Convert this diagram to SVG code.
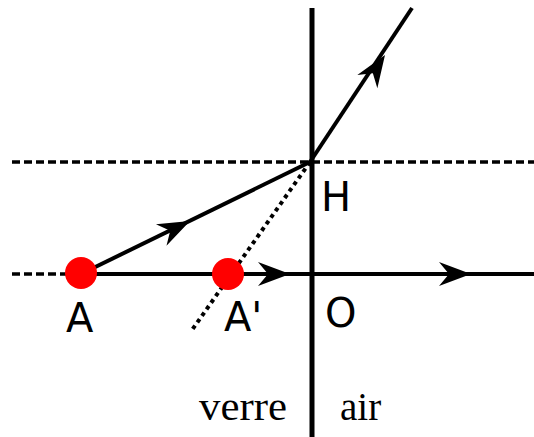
<svg xmlns="http://www.w3.org/2000/svg" width="534" height="437" viewBox="0 0 534 437">
<defs>
<style>
.dash{stroke:#000;stroke-width:3.5;stroke-dasharray:8,4;fill:none}
.ray{stroke:#000;stroke-width:4;fill:none;stroke-linecap:butt}
.dot{stroke:#000;stroke-width:4;stroke-dasharray:4,4;fill:none}
.lbl{font-family:"DejaVu Sans",sans-serif;font-size:40px;fill:#000}
.med{font-family:"Liberation Serif",serif;font-size:39px;fill:#000}
.pt{fill:#ff0000}
</style>
<path id="ah" d="M0,0 L-32,-12 L-22,0 L-32,12 Z" fill="#000"/>
</defs>
<g id="axes">
<line class="dash" x1="12" y1="162" x2="534" y2="162"/>
<line class="dash" x1="12" y1="274" x2="81" y2="274"/>
<line x1="312" y1="8" x2="312" y2="437" stroke="#000" stroke-width="5"/>
</g>
<g id="connectors">
<line class="ray" x1="81" y1="274" x2="534" y2="274"/>
<line class="ray" x1="81" y1="274" x2="310" y2="162"/>
<line class="ray" x1="310" y1="162" x2="412" y2="8"/>
<line class="dot" x1="310" y1="162" x2="192" y2="330"/>
<use href="#ah" transform="translate(190,221) rotate(-26)"/>
<use href="#ah" transform="translate(385,55) rotate(-56.5)"/>
<use href="#ah" transform="translate(290,274)"/>
<use href="#ah" transform="translate(471,274)"/>
</g>
<g id="A"><circle class="pt" cx="81" cy="273" r="16"/><text class="lbl" x="66" y="332">A</text></g>
<g id="A-prime"><circle class="pt" cx="228" cy="274" r="16"/><text class="lbl" x="224" y="331">A'</text></g>
<g id="H"><text class="lbl" x="321" y="211" font-size="43">H</text></g>
<g id="O"><text class="lbl" x="325" y="327" font-size="42">O</text></g>
<g id="verre"><text class="med" x="199" y="420" textLength="88" lengthAdjust="spacingAndGlyphs">verre</text></g>
<g id="air"><text class="med" x="340" y="420">air</text></g>
</svg>
